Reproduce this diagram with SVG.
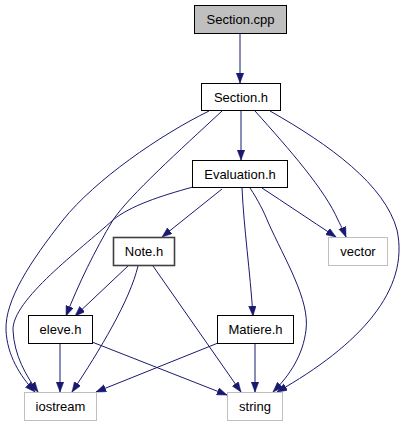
<svg xmlns="http://www.w3.org/2000/svg" width="410" height="427" viewBox="0 0 410 427">
<style>
.box{fill:#ffffff;stroke:#000000;stroke-width:1}
.cur{fill:#bfbfbf;stroke:#000000;stroke-width:1}
.ext{fill:#ffffff;stroke:#bfbfbf;stroke-width:1}
.note{fill:#ffffff;stroke:#404040;stroke-width:1.6}
.lbl{font-family:"Liberation Sans",Arial,Helvetica,sans-serif;font-size:13px;fill:#000000;text-anchor:middle}
.e{fill:none;stroke:#191970;stroke-width:1;marker-end:url(#arr)}
</style>
<defs>
<marker id="arr" markerUnits="userSpaceOnUse" markerWidth="11" markerHeight="8" refX="10" refY="3.75" orient="auto">
<path d="M0,0 L10,3.75 L0,7.5 z" fill="#191970" stroke="#191970" stroke-width="0.5"/>
</marker>
</defs>
<rect width="410" height="427" fill="#ffffff"/>
<g id="connectors">
<path class="e" d="M240,34 L240,83"/>
<path class="e" d="M241,111 L241,160"/>
<path class="e" d="M209,111 C160,135 95,180 63,220 C30,262 5,300 6,330 C7,355 20,376 35,392"/>
<path class="e" d="M193,187 C160,196 130,206 113,220 C80,250 12,300 13,330 C14,355 26,376 38,392"/>
<path class="e" d="M222,111 C180,150 130,195 113,220 C95,250 78,285 66,316"/>
<path class="e" d="M255,111 C290,150 325,190 338,220 C342,228 344,232 346,237"/>
<path class="e" d="M270,111 C330,145 385,185 397,230 C410,290 360,345 277,392"/>
<path class="e" d="M222,189 L162,237"/>
<path class="e" d="M242,188 C244,230 250,270 253,316"/>
<path class="e" d="M250,188 C258,200 264,212 268,222 C285,260 310,300 306,330 C303,355 290,375 273,392"/>
<path class="e" d="M262,188 C285,203 310,220 336,237"/>
<path class="e" d="M128,266 L75,316"/>
<path class="e" d="M138,266 C130,300 100,350 72,392"/>
<path class="e" d="M153,266 L241,392"/>
<path class="e" d="M60,343 L60,392"/>
<path class="e" d="M92,342 L227,395"/>
<path class="e" d="M218,343 L96,392"/>
<path class="e" d="M255,343 L255,392"/>
</g>
<g id="node-section-cpp"><rect class="cur" x="194.5" y="5.5" width="92" height="28"/><text class="lbl" x="240.5" y="24">Section.cpp</text></g>
<g id="node-section-h"><rect class="box" x="201.5" y="83.5" width="79" height="27"/><text class="lbl" x="241" y="101.5">Section.h</text></g>
<g id="node-evaluation-h"><rect class="box" x="192.5" y="160.5" width="95" height="27"/><text class="lbl" x="240" y="178.5">Evaluation.h</text></g>
<g id="node-note-h"><rect class="note" x="113.5" y="237.5" width="61" height="28"/><text class="lbl" x="144" y="256">Note.h</text></g>
<g id="node-vector"><rect class="ext" x="328.5" y="237.5" width="59" height="28"/><text class="lbl" x="358" y="256">vector</text></g>
<g id="node-eleve-h"><rect class="box" x="28.5" y="315.5" width="64" height="28"/><text class="lbl" x="60.5" y="334">eleve.h</text></g>
<g id="node-matiere-h"><rect class="box" x="217.5" y="315.5" width="76" height="28"/><text class="lbl" x="255.5" y="334">Matiere.h</text></g>
<g id="node-iostream"><rect class="ext" x="24.5" y="392.5" width="72" height="28"/><text class="lbl" x="60.5" y="411">iostream</text></g>
<g id="node-string"><rect class="ext" x="227.5" y="392.5" width="55" height="28"/><text class="lbl" x="255" y="411">string</text></g>
</svg>
